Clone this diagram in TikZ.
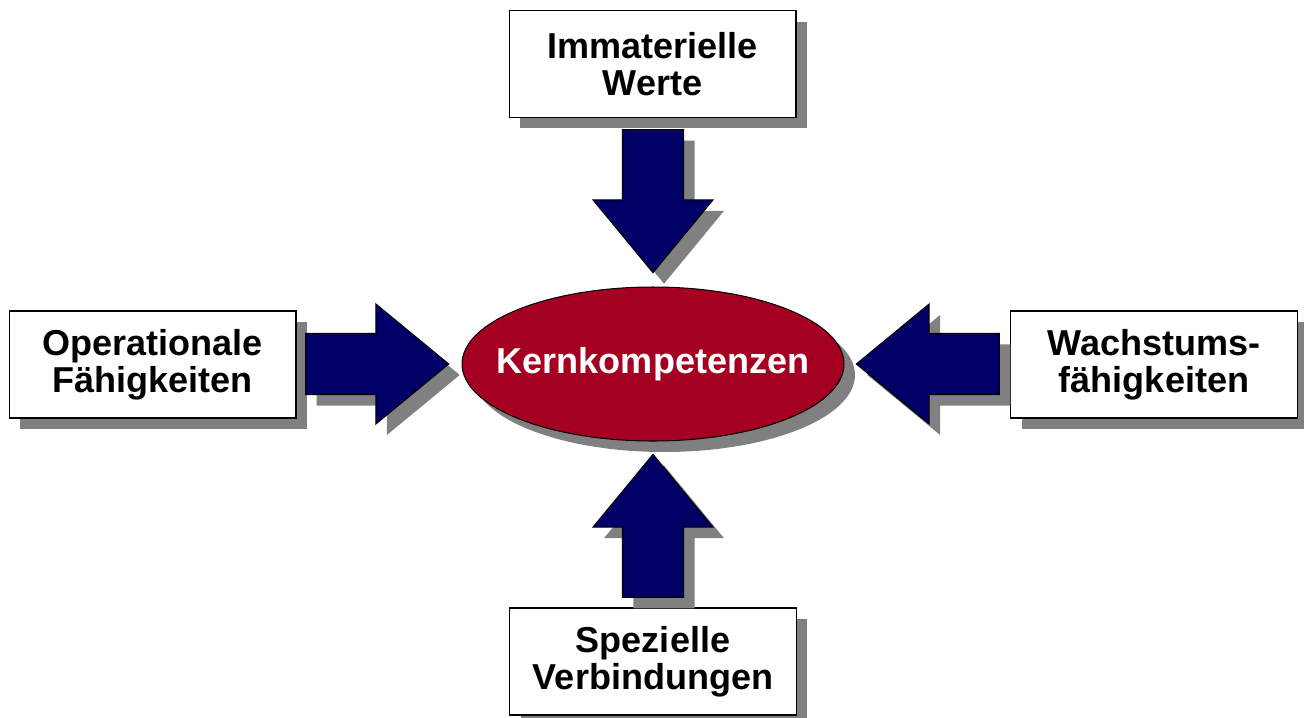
\documentclass[tikz,border=0pt]{standalone}
\usepackage{fontspec}
\setmainfont{Liberation Sans}
\usetikzlibrary{shapes.geometric,shapes.arrows,shadows,calc}
\definecolor{kernred}{RGB}{165,0,33}
\definecolor{pfeilblue}{RGB}{0,0,102}
\definecolor{schatten}{RGB}{128,128,128}

\begin{document}
\begin{tikzpicture}[x=0.02cm,y=-0.02cm]
	\tikzset{
		shadow example/.style={drop shadow={shadow xshift=0.22cm, shadow yshift=-0.22cm, fill=schatten, opacity=1}},
		box example/.style={shape=rectangle, draw=black, line width=0.6pt, fill=white, shadow example, minimum width=5.74cm, minimum height=2.14cm, align=center, font=\fontsize{20.5}{21}\selectfont\bfseries},
		arrow example/.style={shape=single arrow, draw=black, line width=0.6pt, fill=pfeilblue, shadow example, inner sep=0.6cm, minimum height=2.86cm, single arrow head extend=0.59cm, single arrow tip angle=79, anchor=tip}
		}
		\useasboundingbox (0,0) rectangle (1304,717);

		\path	(653,364) node [name=core, shape=ellipse, draw=black, line width=0.6pt, fill=kernred, shadow example, minimum width=7.64cm, minimum height=3.08cm, text=white, font=\fontsize{20.5}{21}\selectfont\bfseries] {\makebox[0pt]{Kernkompetenzen}}
				(652.5,64) node [name=werte, box example] {Immaterielle\\Werte}
				(152.5,364.5) node [name=operativ, box example] {Operationale\\Fähigkeiten}
				(1154,364.5) node [name=wachstum, box example] {Wachstums-\\fähigkeiten}
				(653,661.5) node [name=verbind, box example] {Spezielle\\Verbindungen};

		\path ($(core.north)+(0,-13)$) node [name=arrow werte, arrow example, shape border rotate=270] {};
		\path ($(core.west)+(-12,0)$) node [name=arrow operativ, arrow example, shape border rotate=0] {};
		\path ($(core.east)+(11,0)$) node [name=arrow wachstum, arrow example, shape border rotate=180] {};
		\path ($(core.south)+(0,12)$) node [name=arrow verbind, arrow example, shape border rotate=90] {};

	\end{tikzpicture}
\end{document}
